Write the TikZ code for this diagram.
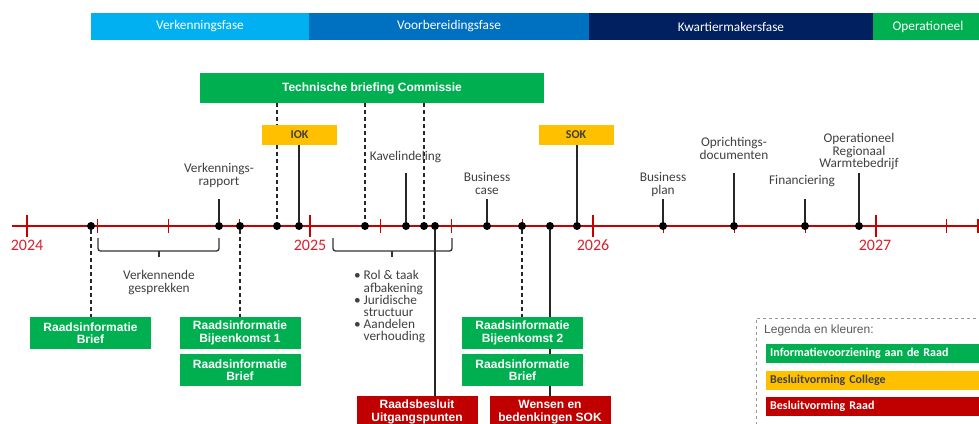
\documentclass[tikz,border=0pt]{standalone}
\usepackage{fontspec}
\setmainfont{Carlito}
\newfontfamily\arl{Liberation Sans}
\usetikzlibrary{backgrounds}
\definecolor{phA}{HTML}{00B0F0}
\definecolor{phB}{HTML}{0070C0}
\definecolor{phC}{HTML}{002060}
\definecolor{boxgreen}{HTML}{00B050}
\definecolor{boxyellow}{HTML}{FFC000}
\definecolor{boxred}{HTML}{C00000}
\definecolor{tlred}{HTML}{C80000}
\definecolor{yearred}{HTML}{DA1F2B}
\definecolor{textgray}{HTML}{404040}
\definecolor{leggray}{HTML}{595959}
\begin{document}
\begin{tikzpicture}[x=1pt,y=-1pt,
  phase/.style={rectangle, inner sep=0, minimum height=27, text=white, font=\fontsize{13.3}{15}\selectfont},
  gbox/.style={rectangle, fill=boxgreen, text=white, inner sep=0, align=center, font=\arl\bfseries\fontsize{12}{12.3}\selectfont},
  ribbox/.style={gbox, minimum width=121, minimum height=32},
  rbox/.style={ribbox, fill=boxred},
  ybox/.style={rectangle, fill=boxyellow, text=textgray, inner sep=0, minimum width=75, minimum height=20, font=\bfseries\fontsize{12}{14}\selectfont},
  dot/.style={circle, fill=black, inner sep=0, minimum size=8},
  lbl/.style={inner sep=0, align=center, text=textgray, font=\fontsize{13.3}{12.2}\selectfont},
  year/.style={inner sep=0, text=yearred, font=\fontsize{16}{18}\selectfont},
  conn/.style={draw=black!85, line width=1.4},
  dconn/.style={conn, dash pattern=on 4pt off 3pt},
  tline/.style={draw=tlred, line width=2.2},
  tickmark/.style={draw=tlred, line width=1.1},
  bracepath/.style={draw=black!80, line width=1.3, rounded corners=2.5},
  lgbox/.style={rectangle, inner sep=0, inner xsep=4, anchor=north west, minimum height=19, text width=214, align=left, font=\bfseries\fontsize{12}{14}\selectfont}
]
\useasboundingbox (0,0) rectangle (979,423);
\clip (0,0) rectangle (979,423);

% phase bar
\node[phase, fill=phA, minimum width=218] (ph1) at (200,26.5) {Verkenningsfase};
\node[phase, fill=phB, minimum width=280] (ph2) at (449,26.5) {Voorbereidingsfase};
\node[phase, fill=phC, minimum width=284] (ph3) at (731,26.5) {Kwartiermakersfase};
\node[phase, fill=boxgreen, minimum width=110] (ph4) at (928,26.5) {Operationeel};

% top boxes
\node[gbox, minimum width=344, minimum height=30] (brief) at (372,88) {Technische briefing Commissie};
\node[ybox] (iok) at (299.5,135) {IOK};
\node[ybox] (sok) at (576,135) {SOK};

% timeline
\coordinate (tlL) at (12,226);
\coordinate (tlR) at (978,226);

% years
\node[year] (y2024) at (27,245.5) {2024};
\node[year] (y2025) at (310,245.5) {2025};
\node[year] (y2026) at (593,245.5) {2026};
\node[year] (y2027) at (875,245.5) {2027};

% dots
\foreach \x in {91,219,240,277,299,365,406,424,435,487,522,550,577,663,734,805,859}
  \node[dot] (d\x) at (\x,226) {};

% upper label line ends
\coordinate (u219) at (219,199);
\coordinate (u406) at (406,173);
\coordinate (u487) at (487,199);
\coordinate (u663) at (663,199);
\coordinate (u734) at (734,173);
\coordinate (u805) at (805,199);
\coordinate (u859) at (859,173);

% upper labels
\node[lbl, anchor=north] (l219) at (219,163.5) {Verkennings-\\rapport};
\node[lbl, anchor=north] (l406) at (405.5,151.5) {Kavelindeling};
\node[lbl, anchor=north] (l487) at (487,172.5) {Business\\case};
\node[lbl, anchor=north] (l663) at (663,172.5) {Business\\plan};
\node[lbl, anchor=north] (l734) at (734,137.5) {Oprichtings-\\documenten};
\node[lbl, anchor=north] (l805) at (802,175.5) {Financiering};
\node[lbl, anchor=north] (l859) at (859,133.5) {Operationeel\\Regionaal\\Warmtebedrijf};

% lower labels
\node[lbl, anchor=north] (gespr) at (159,270.5) {Verkennende\\gesprekken};
\node[lbl, anchor=north west, align=left] (bullets) at (354,270.5)
  {\makebox[9.5pt][l]{•}Rol \& taak\\\hspace*{9.5pt}afbakening\\
   \makebox[9.5pt][l]{•}Juridische\\\hspace*{9.5pt}structuur\\
   \makebox[9.5pt][l]{•}Aandelen\\\hspace*{9.5pt}verhouding};

% lower boxes
\node[ribbox] (rib1) at (90.5,333) {Raadsinformatie\\Brief};
\node[ribbox] (rib2) at (240,333) {Raadsinformatie\\Bijeenkomst 1};
\node[ribbox] (rib3) at (240,370) {Raadsinformatie\\Brief};
\node[ribbox] (rib4) at (522.5,333) {Raadsinformatie\\Bijeenkomst 2};
\node[ribbox] (rib5) at (522.5,370) {Raadsinformatie\\Brief};
\node[rbox] (rb) at (417,412) {Raadsbesluit\\Uitgangspunten};
\node[rbox] (wb) at (550,412) {Wensen en\\bedenkingen SOK};

% braces
\draw[bracepath] (98,238) -- (98,251) -- (219,251) -- (219,238);
\draw[bracepath] (159,251) -- (159,257);
\draw[bracepath] (333,238) -- (333,251) -- (452,251) -- (452,238);
\draw[bracepath] (392,251) -- (392,257);

% legend
\node[draw=black!40, dashed, line width=0.8, minimum width=240, minimum height=130, anchor=north west, inner sep=0] (legend) at (755.5,317.5) {};
\node[anchor=base west, inner sep=0, text=leggray, font=\arl\fontsize{12}{14}\selectfont] (legtitle) at (764,333) {Legenda en kleuren:};
\node[lgbox, fill=boxgreen, text=white] (lg1) at (766,344) {Informatievoorziening aan de Raad};
\node[lgbox, fill=boxyellow, text=textgray] (lg2) at (766,371) {Besluitvorming College};
\node[lgbox, fill=boxred, text=white] (lg3) at (766,396.5) {Besluitvorming Raad};

\begin{scope}[on background layer]
  \draw[tline] (tlL) -- (tlR);
  \foreach \i in {0,...,13} {
    \pgfmathsetmacro{\tx}{27+70.75*\i}
    \pgfmathtruncatemacro{\mj}{mod(\i,4)}
    \ifnum\mj=0
      \draw[tickmark] (\tx,215) -- (\tx,237);
    \else
      \draw[tickmark] (\tx,219) -- (\tx,233);
    \fi
  }
  \draw[tickmark, line width=1.8] (978,219) -- (978,233);
  % upward connectors
  \foreach \x in {219,406,487,663,734,805,859}
    \draw[conn] (d\x) -- (u\x);
  \draw[conn] (d299) -- (d299 |- iok.south);
  \draw[conn] (d577) -- (d577 |- sok.south);
  \draw[dconn] (brief.south -| d277) -- (d277);
  \draw[dconn] (brief.south -| d365) -- (d365);
  \draw[dconn] (brief.south -| d424) -- (d424);
  % downward connectors
  \draw[dconn] (d91) -- (d91 |- rib1.north);
  \draw[dconn] (d240) -- (d240 |- rib2.north);
  \draw[dconn] (d522) -- (d522 |- rib4.north);
  \draw[conn] (d435) -- (d435 |- rb.north);
  \draw[conn] (d550) -- (wb.north);
\end{scope}
\end{tikzpicture}
\end{document}
